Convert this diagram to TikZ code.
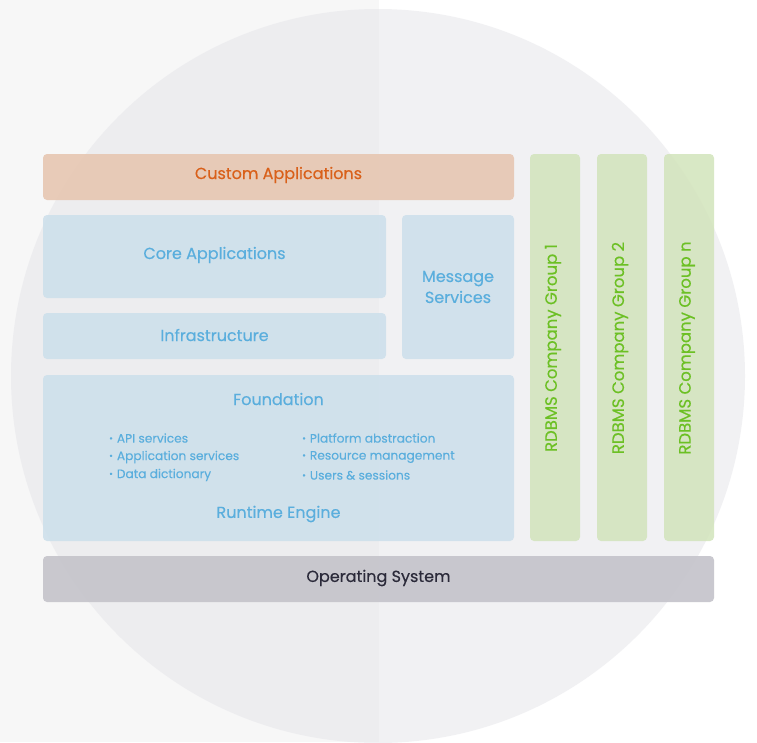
\documentclass[tikz,border=0pt]{standalone}
\usepackage{fontspec}
\setmainfont{Poppins}[FakeBold=0.35]
\newfontfamily\lightfont{Poppins}[FakeBold=0.15]
\definecolor{bgleft}{HTML}{F7F7F7}
\definecolor{circ}{HTML}{E4E4E9}
\definecolor{custfill}{HTML}{E6C4AE}
\definecolor{custtext}{HTML}{D9601A}
\definecolor{bluefill}{HTML}{CCDFEB}
\definecolor{bluetext}{HTML}{5AAEDD}
\definecolor{greenfill}{HTML}{D2E4BB}
\definecolor{greentext}{HTML}{6CC024}
\definecolor{osfill}{HTML}{C4C3CA}
\definecolor{ostext}{HTML}{2B2A3A}
\tikzset{
  layer/.style={rounded corners=4pt, fill opacity=0.85, text opacity=1},
  custbox/.style={layer, fill=custfill},
  bluebox/.style={layer, fill=bluefill},
  greenbox/.style={layer, fill=greenfill},
  osbox/.style={layer, fill=osfill, fill opacity=0.9},
  lbl/.style={font=\fontsize{16}{21}\selectfont},
  rlbl/.style={font=\fontsize{16.5}{21}\selectfont},
  small/.style={font=\lightfont\fontsize{12.2}{14}\selectfont, text=bluetext, anchor=west, inner sep=0pt}
}
\newcommand{\bul}{{\fontsize{9}{10}\selectfont\raisebox{1.2pt}{•}}\hspace{4pt}}
\begin{document}
\begin{tikzpicture}[x=1pt,y=-1pt]
\useasboundingbox (0,0) rectangle (757,742);
\fill[white] (0,0) rectangle (757,742);
\fill[bgleft] (0,0) rectangle (379,742);
\fill[circ, fill opacity=0.5] (378,376) circle (367);
% layers
\draw[custbox, draw=none] (43,154) rectangle (514,200);
\node[lbl, text=custtext] (cust) at (278.5,175) {Custom Applications};
\draw[bluebox, draw=none] (43,215) rectangle (386,298);
\node[lbl, text=bluetext] (core) at (214.5,255) {Core Applications};
\draw[bluebox, draw=none] (43,313) rectangle (386,359);
\node[lbl, text=bluetext] (infra) at (214.5,335) {Infrastructure};
\draw[bluebox, draw=none] (402,215) rectangle (514,359);
\node[lbl, text=bluetext, align=center] (msg) at (458,287) {Message\\Services};
\draw[bluebox, draw=none] (43,375) rectangle (514,541);
\node[lbl, text=bluetext] (found) at (278.5,399) {Foundation};
\node[lbl, text=bluetext] (rt) at (278.5,514) {Runtime Engine};
\node[small] (a1) at (109,438) {\bul API services};
\node[small] (a2) at (109,457) {\bul Application services};
\node[small] (a3) at (109,475) {\bul Data dictionary};
\node[small] (b1) at (302,438) {\bul Platform abstraction};
\node[small] (b2) at (302,457) {\bul Resource management};
\node[small] (b3) at (302,475) {\bul Users \& sessions};
% RDBMS
\draw[greenbox, draw=none] (530,154) rectangle (580,541);
\node[rlbl, text=greentext, rotate=90] (g1) at (553,348) {RDBMS Company Group 1};
\draw[greenbox, draw=none] (597,154) rectangle (647,541);
\node[rlbl, text=greentext, rotate=90] (g2) at (620,348) {RDBMS Company Group 2};
\draw[greenbox, draw=none] (664,154) rectangle (714,541);
\node[rlbl, text=greentext, rotate=90] (gn) at (687,348) {RDBMS Company Group n};
% OS
\draw[osbox, draw=none] (43,556) rectangle (714,602);
\node[lbl, text=ostext] (os) at (378.5,578) {Operating System};
\end{tikzpicture}
\end{document}
